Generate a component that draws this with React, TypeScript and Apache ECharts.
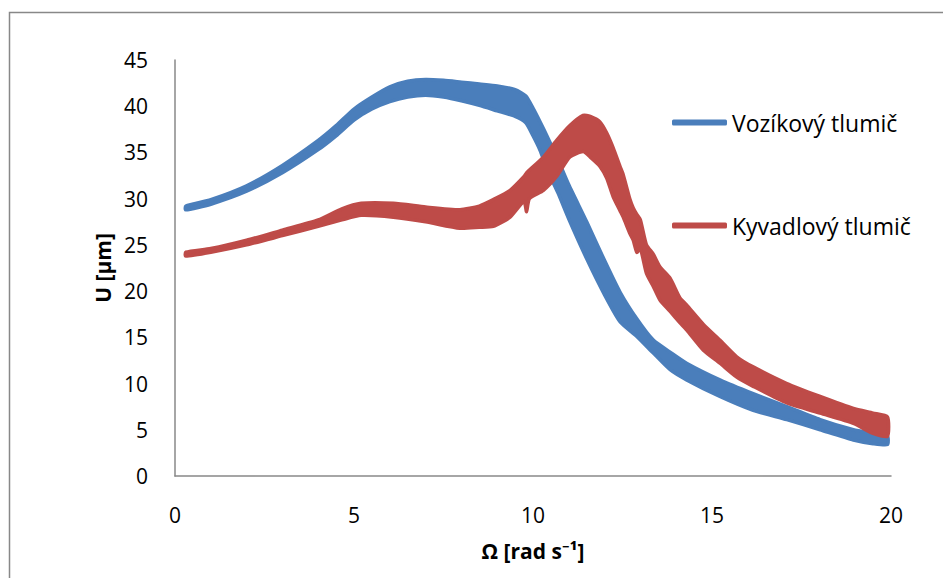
import React, { useEffect, useRef } from "react";
import * as echarts from "echarts";

// Vozíkový tlumič (blue) – envelope of the noisy response band
const blueX = [0.3, 1, 2, 3, 4, 4.5, 5, 5.5, 6, 6.5, 7, 7.5, 8, 8.5, 9, 9.5, 9.8, 10, 10.2, 10.4, 10.7, 11, 11.5, 12, 12.43, 12.9, 13.36, 13.83, 14.29, 15.22, 16.15, 17.09, 18.02, 18.95, 19.5, 19.9];
const blueLow = [28.8, 29.4, 30.8, 32.8, 35.3, 36.8, 38.5, 39.7, 40.5, 41.0, 41.2, 41.0, 40.6, 40.1, 39.5, 38.9, 38.2, 36.8, 35.2, 33.1, 30.6, 27.8, 23.5, 19.6, 16.7, 15.1, 13.3, 11.5, 10.4, 8.6, 7.1, 6.1, 5.0, 3.9, 3.5, 3.4];
const blueHigh = [29.2, 29.9, 31.4, 33.6, 36.3, 37.9, 39.7, 41.0, 42.1, 42.7, 42.9, 42.8, 42.6, 42.4, 42.2, 41.8, 41.1, 39.8, 38.3, 36.7, 34.2, 31.5, 27.5, 23.3, 19.9, 17.0, 14.7, 13.4, 12.2, 10.4, 8.9, 7.5, 6.1, 5.0, 4.6, 4.3];

// Kyvadlový tlumič (red)
const redX = [0.3, 1, 2, 3, 4, 4.66, 5.2, 6.1, 7, 7.96, 8.5, 8.89, 9.36, 9.75, 9.82, 9.9, 10.29, 10.66, 11.03, 11.4, 11.6, 11.87, 12.06, 12.24, 12.43, 12.52, 12.71, 12.8, 12.9, 13.0, 13.17, 13.36, 13.55, 13.83, 14.1, 14.29, 14.76, 15.22, 15.69, 16.15, 17.09, 18.02, 18.95, 19.5, 19.9];
const redLow = [23.8, 24.2, 25.0, 26.0, 27.0, 27.7, 28.2, 28.0, 27.5, 26.8, 26.9, 27.0, 28.0, 29.7, 28.6, 30.0, 30.9, 32.4, 34.5, 35.1, 34.5, 33.5, 32.2, 30.2, 28.7, 28.0, 26.2, 25.5, 24.2, 24.6, 21.9, 20.5, 19.0, 17.8, 16.6, 15.8, 13.6, 12.2, 10.7, 9.7, 7.9, 6.8, 5.7, 4.6, 4.3];
const redHigh = [24.2, 24.6, 25.5, 26.6, 27.7, 28.9, 29.5, 29.5, 29.1, 28.8, 29.2, 29.9, 30.9, 32.4, 32.8, 33.1, 34.5, 36.3, 37.9, 39.0, 38.9, 38.3, 37.1, 35.5, 33.5, 32.6, 29.9, 29.0, 28.3, 27.7, 25.0, 24.0, 22.6, 21.4, 19.3, 18.5, 16.4, 14.7, 12.9, 11.8, 10.0, 8.6, 7.3, 6.8, 6.4];

const seriesNames = ["Vozíkový tlumič", "Kyvadlový tlumič"];
const xTicks = { min: 0, max: 20, interval: 5 };
const yTicks = { min: 0, max: 45, interval: 5 };

const FONT = "'Open Sans', 'Noto Sans', sans-serif";

function bandSeries(name: string, xs: number[], lo: number[], hi: number[], color: string) {
  return {
    type: "custom",
    name,
    itemStyle: { color },
    data: [[xs[0], lo[0]]],
    clip: false,
    renderItem: (_params: any, api: any) => {
      const pts: number[][] = [];
      for (let i = 0; i < xs.length; i++) pts.push(api.coord([xs[i], lo[i]]));
      for (let i = xs.length - 1; i >= 0; i--) pts.push(api.coord([xs[i], hi[i]]));
      return {
        type: "polygon",
        shape: { points: pts, smooth: 0.2 },
        style: { fill: color, stroke: color, lineWidth: 3.5, lineJoin: "round" },
      };
    },
  };
}

export default function App() {
  const ref = useRef<HTMLDivElement>(null);
  useEffect(() => {
    document.body.style.margin = "0";
    const chart = echarts.init(ref.current!, undefined, { renderer: "svg" });
    chart.setOption({
      animation: false,
      backgroundColor: "#ffffff",
      textStyle: { fontFamily: FONT },
      graphic: [
        {
          type: "rect",
          shape: { x: 9.5, y: 12.5, width: 1000, height: 1000 },
          style: { fill: "none", stroke: "#888888", lineWidth: 1.5 },
          silent: true,
        },
      ],
      grid: { left: 175, right: 52, top: 60, bottom: 102 },
      legend: {
        orient: "vertical",
        left: 667,
        top: 106,
        itemWidth: 55,
        itemHeight: 6,
        itemGap: 80,
        icon: "roundRect",
        textStyle: { fontSize: 23, color: "#000", fontFamily: FONT },
        data: seriesNames,
      },
      xAxis: {
        type: "value",
        min: xTicks.min,
        max: xTicks.max,
        interval: xTicks.interval,
        name: "Ω [rad s⁻¹]",
        nameLocation: "middle",
        nameGap: 64,
        nameTextStyle: { fontSize: 21, fontWeight: "bold", color: "#000", fontFamily: FONT },
        axisLine: { lineStyle: { color: "#888888", width: 1.5 } },
        axisTick: { show: false },
        splitLine: { show: false },
        axisLabel: { fontSize: 21, color: "#000", margin: 28, fontFamily: FONT },
      },
      yAxis: {
        type: "value",
        min: yTicks.min,
        max: yTicks.max,
        interval: yTicks.interval,
        name: "U [µm]",
        nameLocation: "middle",
        nameGap: 46,
        nameTextStyle: { fontSize: 21, fontWeight: "bold", color: "#000", fontFamily: FONT },
        axisLine: { show: true, lineStyle: { color: "#888888", width: 1.5 } },
        axisTick: { show: false },
        splitLine: { show: false },
        axisLabel: { fontSize: 21, color: "#000", margin: 27, fontFamily: FONT },
      },
      series: [
        bandSeries(seriesNames[0], blueX, blueLow, blueHigh, "#4A7EBB"),
        bandSeries(seriesNames[1], redX, redLow, redHigh, "#BE4B48"),
      ],
    });
    return () => chart.dispose();
  }, []);
  return <div ref={ref} style={{ width: 943, height: 578 }} />;
}
